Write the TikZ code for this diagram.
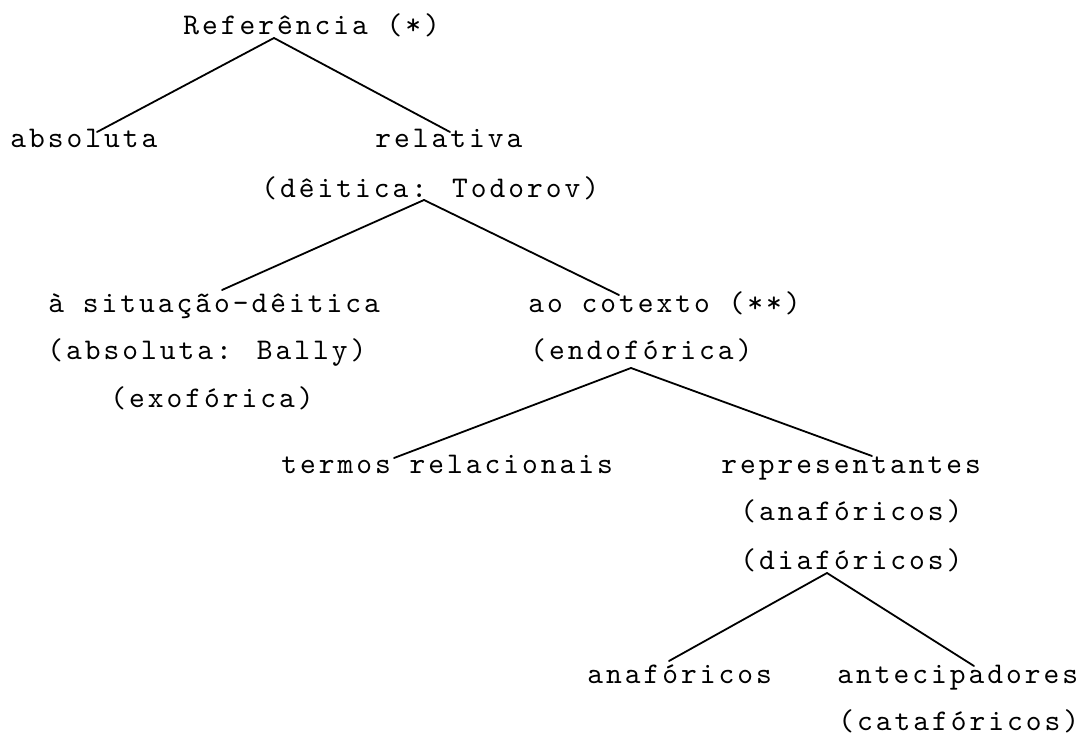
\documentclass[tikz,border=0pt]{standalone}
\usepackage{fontspec}
\newfontfamily\tw{lmmono10-regular}[Extension=.otf,LetterSpace=10]
\tikzset{
  lbl/.style={anchor=base west,inner sep=0pt,font=\tw\fontsize{15pt}{24pt}\selectfont},
  conn/.style={line width=0.9pt,line cap=round}
}
\begin{document}
\begin{tikzpicture}[x=0.5pt,y=-0.5pt]
\useasboundingbox (0,0) rectangle (1088,737);
% text nodes
\node[lbl] (ref)  at (183,35)  {Referência (*)};
\node[lbl] (abs)  at (10,148)  {absoluta};
\node[lbl] (rel)  at (375,148) {relativa};
\node[lbl] (rel2) at (261,198) {(dêitica: Todorov)};
\node[lbl] (sit)  at (48,313)  {à situação-dêitica};
\node[lbl] (sit2) at (47,360)  {(absoluta: Bally)};
\node[lbl] (sit3) at (110,408) {(exofórica)};
\node[lbl] (cot)  at (528,313) {ao cotexto (**)};
\node[lbl] (cot2) at (530,360) {(endofórica)};
\node[lbl] (ter)  at (281,474) {termos relacionais};
\node[lbl] (rep)  at (721,474) {representantes};
\node[lbl] (rep2) at (740,521) {(anafóricos)};
\node[lbl] (rep3) at (740,570) {(diafóricos)};
\node[lbl] (ana)  at (587,683) {anafóricos};
\node[lbl] (ant)  at (837,683) {antecipadores};
\node[lbl] (ant2) at (838,730) {(catafóricos)};
% connector end points
\coordinate (ref-o)  at ([shift={(91,3)}]ref.base west);
\coordinate (abs-i)  at ([shift={(87,-16)}]abs.base west);
\coordinate (rel-i)  at ([shift={(75,-16)}]rel.base west);
\coordinate (rel2-o) at ([shift={(163,2)}]rel2.base west);
\coordinate (sit-i)  at ([shift={(174,-23)}]sit.base west);
\coordinate (cot-i)  at ([shift={(91,-18)}]cot.base west);
\coordinate (cot2-o) at ([shift={(101,8)}]cot2.base west);
\coordinate (ter-i)  at ([shift={(113,-16)}]ter.base west);
\coordinate (rep-i)  at ([shift={(151,-18)}]rep.base west);
\coordinate (rep3-o) at ([shift={(87,3)}]rep3.base west);
\coordinate (ana-i)  at ([shift={(82,-22)}]ana.base west);
\coordinate (ant-i)  at ([shift={(137,-17)}]ant.base west);
% connectors
\draw[conn] (ref-o) -- (abs-i);
\draw[conn] (ref-o) -- (rel-i);
\draw[conn] (rel2-o) -- (sit-i);
\draw[conn] (rel2-o) -- (cot-i);
\draw[conn] (cot2-o) -- (ter-i);
\draw[conn] (cot2-o) -- (rep-i);
\draw[conn] (rep3-o) -- (ana-i);
\draw[conn] (rep3-o) -- (ant-i);
\end{tikzpicture}
\end{document}
